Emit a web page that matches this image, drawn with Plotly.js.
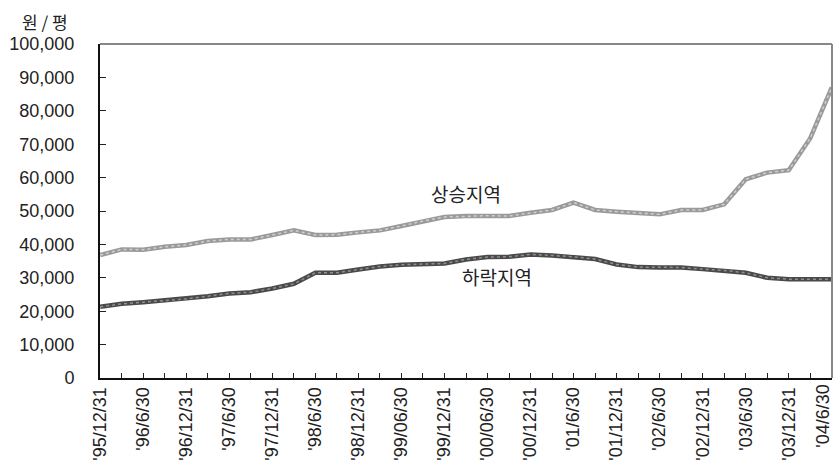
<!DOCTYPE html>
<html>
<head>
<meta charset="utf-8">
<script src="https://cdn.plot.ly/plotly-3.0.1.min.js"></script>
<style>html,body{margin:0;padding:0;background:#fff;}#chart{width:836px;height:473px;}</style>
</head>
<body>
<div id="chart"></div>
<script>
// Quarter-end dates (x categories)
const dates = ["'95/12/31","'96/3/31","'96/6/30","'96/9/30","'96/12/31","'97/3/31","'97/6/30","'97/9/30","'97/12/31",
  "'98/3/31","'98/6/30","'98/9/30","'98/12/31","'99/03/31","'99/06/30","'99/09/30","'99/12/31",
  "'00/03/31","'00/06/30","'00/09/30","'00/12/31","'01/3/31","'01/6/30","'01/9/30","'01/12/31",
  "'02/3/31","'02/6/30","'02/9/30","'02/12/31","'03/3/31","'03/6/30","'03/9/30","'03/12/31","'04/3/31","'04/6/30"];
// 상승지역 (rising region), 원/평
const rising = [36800,38500,38400,39300,39800,41000,41500,41500,42800,44200,42800,42900,43600,44200,45500,47000,48200,
  48500,48600,48500,49500,50300,52500,50300,49800,49500,49000,50300,50300,52000,59500,61500,62200,71800,87000];
// 하락지역 (falling region), 원/평
const falling = [21300,22200,22700,23200,23700,24500,25300,25700,26800,28200,31500,31500,32500,33400,33900,34000,34300,
  35500,36200,36300,37000,36700,36300,35600,34000,33200,33100,33100,32600,32200,31500,30000,29600,29600,29600];
const seriesNames = ['상승지역','하락지역'];
const unitLabel = '원 / 평';

const last = dates.length - 1;
const idx = dates.map((d,i)=>i);
// every other quarter is labelled; the last label is drawn as an annotation so it stays inside the page
const tickText = dates.map((d,i)=> (i%2===0 && i!==last) ? d : '');

const traces = [
  {x: idx, y: rising, mode:'lines', line:{color:'#9a9a9a', width:4.5}, name:seriesNames[0], hoverinfo:'skip', cliponaxis:false},
  {x: idx, y: rising, mode:'lines', line:{color:'#cfcfcf', width:1.5, dash:'dot'}, hoverinfo:'skip', cliponaxis:false},
  {x: idx, y: falling, mode:'lines', line:{color:'#4a4a4a', width:4.5}, name:seriesNames[1], hoverinfo:'skip', cliponaxis:false},
  {x: idx, y: falling, mode:'lines', line:{color:'#909090', width:1.5, dash:'dot'}, hoverinfo:'skip', cliponaxis:false}
];

const fontFam = '"Liberation Sans", Arial, sans-serif';
const layout = {
  width:836, height:473,
  margin:{l:100, r:4, t:44, b:95},
  paper_bgcolor:'#fff', plot_bgcolor:'#fff',
  showlegend:false,
  font:{family:fontFam, size:18, color:'#222'},
  xaxis:{
    range:[-0.01, last+0.01], tickmode:'array', tickvals:idx, ticktext:tickText,
    tickangle:-90, ticks:'inside', ticklen:5, tickcolor:'#222', tickwidth:1,
    showline:true, linecolor:'#111', linewidth:2, showgrid:false, zeroline:false,
    tickfont:{family:fontFam, size:18, color:'#222'}
  },
  yaxis:{
    range:[0,100000], dtick:10000, tick0:0, tickformat:',d',
    ticks:'inside', ticklen:6, tickcolor:'#222', tickwidth:1,
    showline:true, linecolor:'#111', linewidth:2, showgrid:false, zeroline:false,
    tickfont:{family:fontFam, size:18, color:'#222'}, ticklabelstandoff:20
  },
  shapes:[
    {type:'line', xref:'paper', yref:'paper', x0:0, x1:1, y0:1, y1:1, line:{color:'#888', width:2}},
    {type:'line', xref:'paper', yref:'paper', x0:1, x1:1, y0:0, y1:1, line:{color:'#888', width:2}}
  ],
  annotations:[
    {xref:'paper', yref:'paper', x:0, y:1, xanchor:'center', yanchor:'bottom', xshift:-55, yshift:8, showarrow:false,
     text:unitLabel, font:{family:'"Noto Sans CJK KR", sans-serif', size:17, color:'#222'}},
    {x:17.0, y:55300, xanchor:'center', yanchor:'middle', showarrow:false,
     text:seriesNames[0], font:{family:'"Noto Sans CJK KR", sans-serif', size:19, color:'#222'}},
    {x:18.45, y:30300, xanchor:'center', yanchor:'middle', showarrow:false,
     text:seriesNames[1], font:{family:'"Noto Sans CJK KR", sans-serif', size:19, color:'#222'}},
    {x:last, xref:'x', yref:'paper', y:0, xanchor:'right', yanchor:'top', xshift:3, yshift:-4,
     showarrow:false, textangle:-90, text:dates[last], font:{family:fontFam, size:18, color:'#222'}}
  ]
};
Plotly.newPlot('chart', traces, layout, {staticPlot:true, displayModeBar:false});
</script>
</body>
</html>
